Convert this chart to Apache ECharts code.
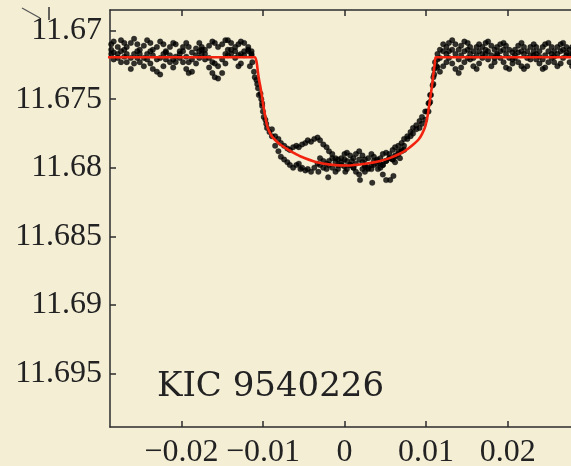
<!DOCTYPE html>
<html><head><meta charset="utf-8">
<script src="https://cdn.jsdelivr.net/npm/echarts@6/dist/echarts.min.js"></script>
<style>html,body{margin:0;padding:0;background:#f4eed5}#c{width:571px;height:466px}</style>
</head><body><div id="c"></div><script>
// ---- data (orbital phase, magnitude) ----
const xTicks = [-0.02, -0.01, 0, 0.01, 0.02];
const yTicks = [11.67, 11.675, 11.68, 11.685, 11.69, 11.695];
const title = 'KIC 9540226';

const phaseLeft = [-0.0286,-0.0283,-0.0278,-0.0274,-0.0270,-0.0267,-0.0262,-0.0258,-0.0254,-0.0251,
  -0.0246,-0.0242,-0.0238,-0.0235,-0.0230,-0.0226,-0.0222,-0.0219,-0.0214,-0.0210,
  -0.0207,-0.0202,-0.0198,-0.0194,-0.0191,-0.0187,-0.0182,-0.0178,-0.0175,-0.0171,
  -0.0166,-0.0162,-0.0159,-0.0155,-0.0150,-0.0146,-0.0143,-0.0139,-0.0134,-0.0130,
  -0.0127,-0.0123,-0.0118,-0.0114];
const magLeftA = [11.6710,11.6708,11.6712,11.6707,11.6709,11.6712,11.6709,11.6706,11.6710,11.6714,
  11.6711,11.6707,11.6709,11.6714,11.6712,11.6708,11.6710,11.6715,11.6712,11.6709,
  11.6710,11.6715,11.6712,11.6709,11.6712,11.6716,11.6713,11.6709,11.6712,11.6714,
  11.6711,11.6708,11.6709,11.6712,11.6710,11.6707,11.6707,11.6709,11.6712,11.6710,
  11.6708,11.6709,11.6712,11.6715];
const magLeftB = [11.6717,11.6721,11.6720,11.6723,11.6719,11.6723,11.6728,11.6724,11.6720,11.6723,
  11.6726,11.6721,11.6724,11.6728,11.6730,11.6732,11.6726,11.6721,11.6723,11.6727,
  11.6723,11.6720,11.6723,11.6728,11.6731,11.6730,11.6724,11.6720,11.6717,11.6721,
  11.6727,11.6731,11.6734,11.6735,11.6731,11.6724,11.6718,11.6717,11.6720,11.6726,
  11.6724,11.6718,11.6715,11.6718];
const magLeftC = [11.6714,11.6716,11.6717,11.6715,11.6714,11.6717,11.6720,11.6717,11.6715,11.6717,
  11.6720,11.6717,11.6715,11.6718,11.6721,11.6720,11.6717,11.6716,11.6718,11.6721,
  11.6719,11.6717,11.6715,11.6719,11.6723,11.6721,11.6718,11.6715,11.6714,11.6717,
  11.6720,11.6723,11.6724,11.6726,11.6721,11.6717,11.6714,11.6714,11.6715,11.6718,
  11.6717,11.6715,11.6714,11.6717];

const phaseIngress = [-0.0116,-0.0113,-0.0111,-0.0110,-0.0108,-0.0107,-0.0106,-0.0105,-0.0103,-0.0102,-0.0101,-0.0101,-0.0100,-0.0099,-0.0097,-0.0096,-0.0095,-0.0092];
const magIngress   = [11.6726,11.6723,11.6730,11.6734,11.6736,11.6739,11.6742,11.6747,11.6746,11.6750,11.6755,11.6753,11.6759,11.6763,11.6765,11.6768,11.6771,11.6774];

const phaseTransit = [-0.0089,-0.0085,-0.0081,-0.0078,-0.0074,-0.0070,-0.0067,-0.0063,-0.0059,-0.0056,
  -0.0052,-0.0048,-0.0045,-0.0041,-0.0037,-0.0033,-0.0030,-0.0026,-0.0022,-0.0019,
  -0.0015,-0.0011,-0.0008,-0.0004,0.0000,0.0003,0.0007,0.0011,0.0014,0.0018,
  0.0022,0.0025,0.0029,0.0033,0.0036,0.0040,0.0044,0.0047,0.0051,0.0055,
  0.0059,0.0062,0.0066,0.0070,0.0073,0.0077,0.0081,0.0084,0.0088,0.0092,
  0.0095,0.0099,0.0103,0.0105,0.0108,0.0109,0.0110,0.0111];
const magTransitA = [11.6772,11.6777,11.6779,11.6782,11.6784,11.6786,11.6787,11.6785,11.6784,11.6785,
  11.6783,11.6782,11.6780,11.6781,11.6779,11.6778,11.6780,11.6783,11.6785,11.6788,
  11.6790,11.6793,11.6794,11.6793,11.6790,11.6789,11.6791,11.6793,11.6790,11.6788,
  11.6791,11.6794,11.6793,11.6790,11.6792,11.6794,11.6793,11.6790,11.6789,11.6790,
  11.6787,11.6785,11.6784,11.6782,11.6779,11.6777,11.6774,11.6771,11.6769,11.6766,
  11.6763,11.6759,11.6753,11.6747,11.6740,11.6734,11.6728,11.6723];
const magTransitB = [11.6777,11.6784,11.6788,11.6792,11.6794,11.6796,11.6798,11.6800,11.6798,11.6797,
  11.6800,11.6802,11.6801,11.6803,11.6800,11.6797,11.6798,11.6800,11.6801,11.6798,
  11.6800,11.6803,11.6801,11.6798,11.6799,11.6801,11.6798,11.6800,11.6803,11.6805,
  11.6801,11.6798,11.6800,11.6801,11.6798,11.6795,11.6797,11.6798,11.6795,11.6793,
  11.6794,11.6791,11.6788,11.6787,11.6784,11.6779,11.6777,11.6775,11.6772,11.6771,
  11.6768,11.6765,11.6759,11.6752];
// middle thread, phases phaseTransit[16..44]
const magTransitC = [11.6793,11.6795,11.6797,11.6795,11.6793,11.6796,11.6798,11.6796,11.6794,11.6795,
  11.6798,11.6800,11.6797,11.6794,11.6796,11.6799,11.6801,11.6798,11.6795,11.6797,
  11.6800,11.6798,11.6795,11.6793,11.6794,11.6792,11.6790,11.6788,11.6787];
const phaseStray = [-0.0020,0.0019,0.0034,0.0051,0.0056,0.0060,0.0025,0.0009,0.0041,0.0062,-0.0032,-0.0054,0.0068,0.0001,0.0047];
const magStray   = [11.6807,11.6809,11.6811,11.6809,11.6809,11.6806,11.6803,11.6795,11.6801,11.6796,11.6803,11.6801,11.6793,11.6803,11.6805];

const phaseEgress = [0.0101,0.0104,0.0106,0.0109,0.0110,0.0113];
const magEgress   = [11.6759,11.6753,11.6747,11.6739,11.6732,11.6726];

const phaseRight = [0.0114,0.0117,0.0121,0.0125,0.0128,0.0132,0.0136,0.0140,0.0143,0.0147,
  0.0151,0.0154,0.0158,0.0162,0.0165,0.0169,0.0173,0.0176,0.0180,0.0184,
  0.0187,0.0191,0.0195,0.0198,0.0202,0.0206,0.0209,0.0213,0.0217,0.0220,
  0.0224,0.0228,0.0232,0.0235,0.0239,0.0243,0.0246,0.0250,0.0254,0.0257,
  0.0261,0.0265,0.0268,0.0272,0.0276,0.0279];
const magRightA = [11.6721,11.6714,11.6710,11.6712,11.6709,11.6707,11.6710,11.6714,11.6711,11.6708,
  11.6709,11.6712,11.6715,11.6712,11.6710,11.6712,11.6709,11.6708,11.6711,11.6714,
  11.6712,11.6710,11.6709,11.6711,11.6714,11.6716,11.6714,11.6711,11.6709,11.6712,
  11.6715,11.6712,11.6710,11.6712,11.6715,11.6712,11.6710,11.6709,11.6712,11.6715,
  11.6712,11.6710,11.6709,11.6712,11.6714,11.6712];
const magRightB = [11.6727,11.6730,11.6726,11.6723,11.6720,11.6724,11.6728,11.6731,11.6727,11.6723,
  11.6720,11.6721,11.6726,11.6728,11.6724,11.6720,11.6717,11.6721,11.6726,11.6723,
  11.6718,11.6720,11.6723,11.6727,11.6728,11.6724,11.6720,11.6723,11.6726,11.6728,
  11.6726,11.6721,11.6718,11.6721,11.6724,11.6728,11.6727,11.6723,11.6720,11.6723,
  11.6726,11.6724,11.6720,11.6718,11.6723,11.6726];
const magRightC = [11.6717,11.6720,11.6715,11.6717,11.6715,11.6714,11.6717,11.6721,11.6718,11.6715,
  11.6714,11.6717,11.6720,11.6718,11.6715,11.6717,11.6714,11.6715,11.6718,11.6720,
  11.6717,11.6715,11.6714,11.6717,11.6720,11.6721,11.6718,11.6716,11.6715,11.6717,
  11.6720,11.6718,11.6715,11.6717,11.6719,11.6721,11.6718,11.6715,11.6717,11.6719,
  11.6717,11.6715,11.6714,11.6716,11.6718,11.6717];

// model light curve (red)
const modelPhase = [-0.0300,-0.01099,-0.01077,-0.01055,-0.01034,-0.01013,-0.00994,-0.00973,-0.00952,-0.00930,
  -0.00891,-0.00850,-0.00789,-0.00703,-0.00629,-0.00544,-0.00339,-0.00175,0.00029,0.00275,
  0.00438,0.00561,0.00683,0.00766,0.00843,0.00908,0.00953,0.00990,0.01015,0.01031,
  0.01052,0.01072,0.01092,0.01107,0.01119,0.0300];
const modelMag = [11.67195,11.67195,11.67233,11.67333,11.67401,11.67474,11.67552,11.67620,11.67685,11.67725,
  11.67770,11.67798,11.67831,11.67864,11.67889,11.67916,11.67960,11.67977,11.67984,11.67969,
  11.67951,11.67928,11.67896,11.67867,11.67831,11.67794,11.67751,11.67698,11.67634,11.67576,
  11.67488,11.67406,11.67306,11.67241,11.67195,11.67195];

// ---- chart ----
const zip = (xs, ys) => xs.map((x, i) => [x, ys[i]]);
const points = [].concat(
  zip(phaseLeft, magLeftA), zip(phaseLeft, magLeftB), zip(phaseLeft, magLeftC),
  zip(phaseIngress, magIngress),
  zip(phaseTransit, magTransitA), zip(phaseTransit.slice(0, magTransitB.length), magTransitB),
  zip(phaseTransit.slice(16, 16 + magTransitC.length), magTransitC),
  zip(phaseStray, magStray), zip(phaseEgress, magEgress),
  zip(phaseRight, magRightA), zip(phaseRight, magRightB), zip(phaseRight, magRightC)
);
const model = zip(modelPhase, modelMag);

const FONT = '"Liberation Serif", "Times New Roman", serif';
const axisLineStyle = { color: '#2b2b2b', width: 1.5 };
const chart = echarts.init(document.getElementById('c'), null, { renderer: 'canvas' });
chart.setOption({
  backgroundColor: '#f4eed5',
  animation: false,
  grid: { left: 110, top: 10, right: -8, bottom: 39, outerBoundsMode: 'none', containLabel: false },
  xAxis: [{
    type: 'value', min: -0.02875, max: 0.02875, position: 'bottom',
    axisLine: { show: true, onZero: false, lineStyle: axisLineStyle },
    axisTick: { show: true, inside: true, length: 6, customValues: xTicks, lineStyle: axisLineStyle },
    axisLabel: { customValues: xTicks, margin: 10, color: '#222', fontFamily: FONT, fontSize: 32,
      formatter: v => v < 0 ? '\u2212' + String(Math.abs(v)) : String(v) },
    splitLine: { show: false }
  }, {
    type: 'value', min: -0.02875, max: 0.02875, position: 'top',
    axisLine: { show: true, onZero: false, lineStyle: axisLineStyle },
    axisTick: { show: true, inside: true, length: 6, customValues: xTicks, lineStyle: axisLineStyle },
    axisLabel: { show: false }, splitLine: { show: false }
  }],
  yAxis: {
    type: 'value', inverse: true, min: 11.6685, max: 11.6989, position: 'left',
    axisLine: { show: true, onZero: false, lineStyle: axisLineStyle },
    axisTick: { show: true, inside: true, length: 6, customValues: yTicks, lineStyle: axisLineStyle },
    axisLabel: { customValues: yTicks, margin: 8, padding: [5, 0, 0, 0], color: '#222', fontFamily: FONT, fontSize: 32,
      formatter: v => String(v) },
    splitLine: { show: false }
  },
  series: [{
    type: 'scatter', data: points, symbolSize: 5.5,
    itemStyle: { color: '#000', borderColor: 'rgba(0,0,0,0.35)', borderWidth: 1 },
    z: 2
  }, {
    type: 'line', data: model, showSymbol: false, smooth: 0.2,
    lineStyle: { color: '#f2230f', width: 2.6 }, z: 3
  }],
  graphic: [
    { type: 'text', x: 157, y: 387, style: { text: title, font: '34px "DejaVu Serif"', fill: '#222', verticalAlign: 'middle' }, z: 10 },
    { type: 'line', shape: { x1: 22, y1: 8, x2: 40, y2: 18 }, style: { stroke: '#555', lineWidth: 1.2 } },
    { type: 'line', shape: { x1: 49, y1: 7, x2: 49, y2: 20 }, style: { stroke: '#333', lineWidth: 1.5 } }
  ]
});
</script></body></html>
